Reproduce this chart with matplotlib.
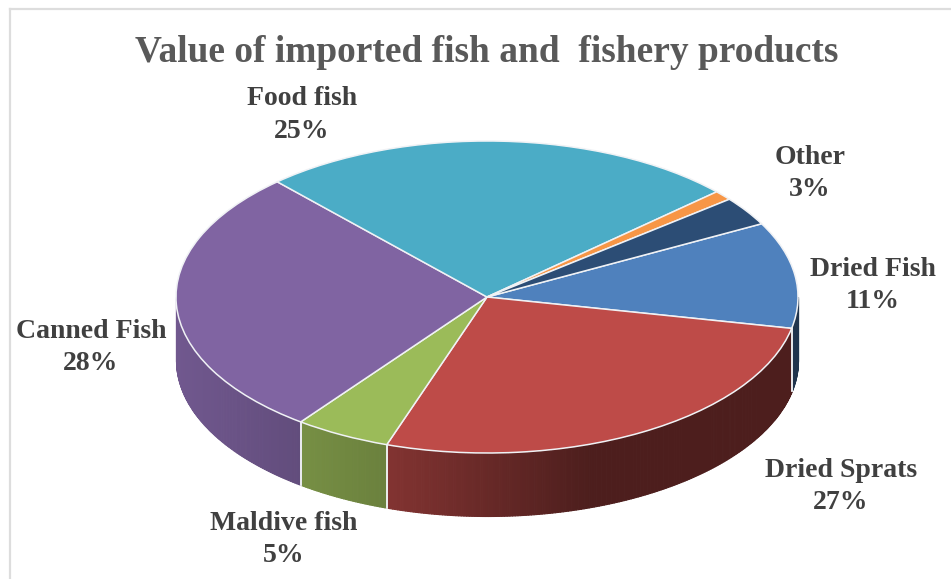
# 3D-style pie of imported fish and fishery product values
import numpy as np
import matplotlib
matplotlib.use("Agg")
import matplotlib.pyplot as plt
from matplotlib.colors import to_rgb

W, H = 951, 579

# --- Data ---
categories = ["Dried Fish", "Dried Sprats", "Maldive fish", "Canned Fish", "Food fish", "", "Other"]
shares = [11, 27, 5, 28, 25, 1, 3]
colors = ["#4F81BD", "#BE4B48", "#9BBB59", "#8064A2", "#4BACC6", "#F79646", "#2C4D75"]

# label text and the pixel position of each label centre
label_text = ["Dried Fish\n11%", "Dried Sprats\n27%", "Maldive fish\n5%",
              "Canned Fish\n28%", "Food fish\n25%", "Other\n3%"]
label_pos = [(873, 285.5), (841, 486.5), (284, 539.5), (91, 347.5), (302, 115), (810, 173.5)]

# pie geometry in pixels
cx, cy = 487, 297
rx, ry = 311, 156
depth = 63 / ry
start = 28

fig = plt.figure(figsize=(W / 100, H / 100), dpi=100)
ax = fig.add_axes([0, 0, 1, 1])

# top face: unit circle squashed by the axis limits
ax.pie(shares, colors=colors, radius=1, startangle=start, counterclock=False,
       wedgeprops=dict(edgecolor="#F0F2F5", linewidth=1.1, zorder=5))
ax.set_aspect("auto")
ax.set_xlim(-cx / rx, (W - cx) / rx)
ax.set_ylim(-(H - cy) / ry, cy / ry)


def shade(x):
    # side wall gets darker towards the right
    return np.interp(x, [-1.0, -0.33, 0.33, 1.0], [0.88, 0.69, 0.405, 0.405])


# side wall: thin strips along the front half of the rim
ends = start - np.cumsum(shares) * 3.6
begins = np.r_[start, ends[:-1]]
for a0, a1, col in zip(begins, ends, colors):
    lo, hi = max(a1, -180), min(a0, 0)
    if lo >= hi:
        continue
    t = np.radians(np.linspace(lo, hi, int((hi - lo) * 2) + 2))
    base = np.array(to_rgb(col))
    for i in range(len(t) - 1):
        xs = np.cos(t[i:i + 2])
        ys = np.sin(t[i:i + 2])
        c = base * shade(xs.mean())
        ax.fill_between(xs, ys, ys - depth, color=c, linewidth=0.8, zorder=2)
    # light seam at the slice boundary
    for b in (lo, hi):
        if b not in (-180, 0):
            r = np.radians(b)
            ax.plot([np.cos(r)] * 2, [np.sin(r), np.sin(r) - depth],
                    color="#F0F2F5", lw=1.1, zorder=3)

# chart frame: only the top and left edges fall inside the canvas
ax.plot([(10 - cx) / rx] * 2, [-(H - cy) / ry, (cy - 9) / ry],
        color="#DDDDDD", lw=1.6, zorder=1)
ax.plot([(10 - cx) / rx, (W - cx) / rx], [(cy - 9) / ry] * 2,
        color="#DDDDDD", lw=1.6, zorder=1)

serif = ["Liberation Serif", "DejaVu Serif"]
fig.text(487 / W, 1 - 52 / H, "Value of imported fish and  fishery products",
         family=serif, weight="bold", fontsize=26.9, color="#595959",
         ha="center", va="center")

for txt, (px, py) in zip(label_text, label_pos):
    fig.text(px / W, 1 - py / H, txt, family=serif, weight="bold", fontsize=20,
             color="#404040", ha="center", va="center", linespacing=1.37, zorder=6)

fig.savefig("out.png", dpi=100, facecolor="white")
